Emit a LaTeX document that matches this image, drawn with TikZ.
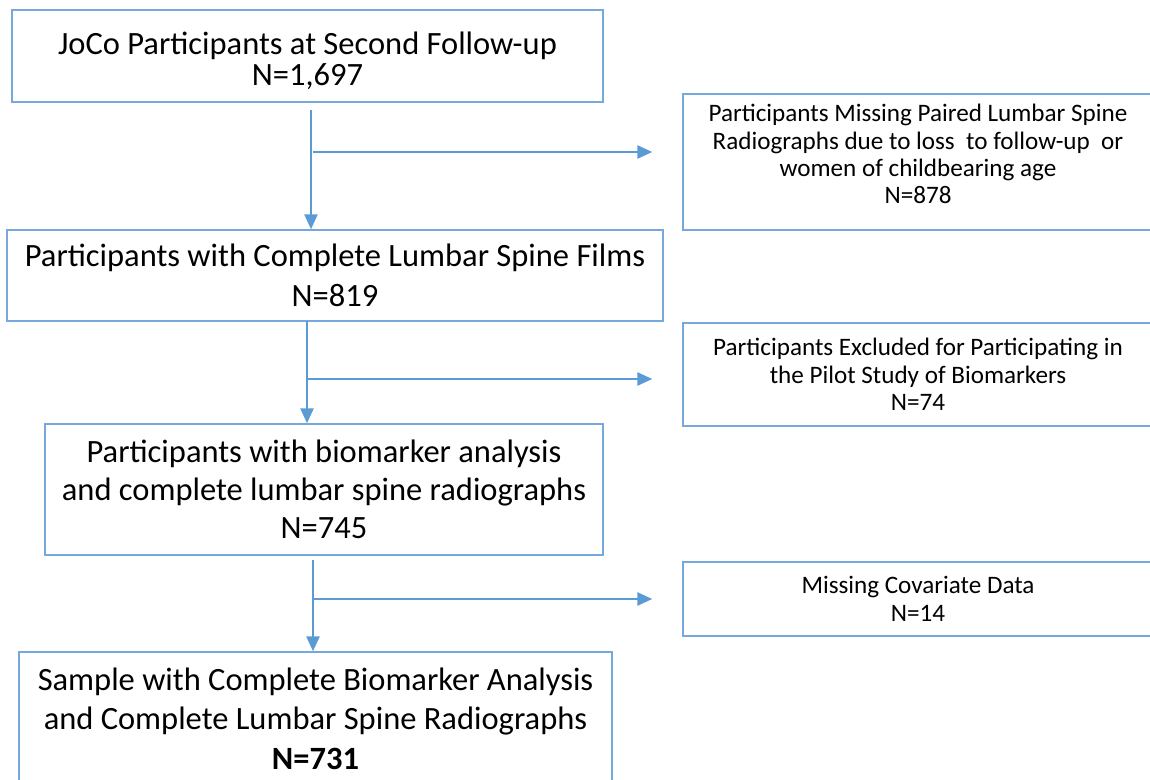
\documentclass[tikz,border=0pt]{standalone}
\usepackage{fontspec}
\setmainfont{Carlito}
\usetikzlibrary{arrows.meta}
\definecolor{flowblue}{RGB}{91,155,213}
\definecolor{frameblue}{RGB}{118,168,222}

\begin{document}
\begin{tikzpicture}[
    x=0.02cm, y=-0.02cm,
    >={Triangle[length=8.5pt, width=7.5pt]},
    flow/.style={->, flowblue, line width=1.2pt},
    mainbox/.style={draw=frameblue, line width=0.9pt, align=center, inner sep=0pt},
    sidebox/.style={draw=frameblue, line width=0.9pt, align=center, inner sep=0pt,
      minimum width=9.4cm, font=\fontsize{14.3}{15.6}\selectfont}
  ]
  \useasboundingbox (0,0) rectangle (1150,779);
  \clip (0,0) rectangle (1150,779);

  % Main column
  \node[mainbox, minimum width=11.82cm, minimum height=1.84cm, text height=36pt,
        font=\fontsize{18.5}{17.5}\selectfont]
    (joco) at (307.5,56) {JoCo Participants at Second Follow-up\\N=1,697};
  \node[mainbox, minimum width=13.12cm, minimum height=1.82cm, font=\fontsize{18.5}{22.5}\selectfont]
    (films) at (335,275.5) {Participants with Complete Lumbar Spine Films\\N=819};
  \node[mainbox, minimum width=11.16cm, minimum height=2.62cm, font=\fontsize{18.5}{21.5}\selectfont]
    (biom) at (324,489.5) {Participants with biomarker analysis\\and complete lumbar spine radiographs\\N=745};
  \node[mainbox, minimum width=11.86cm, minimum height=2.66cm, font=\fontsize{18.5}{22.5}\selectfont]
    (sample) at (315.5,718.5) {Sample with Complete Biomarker Analysis\\and Complete Lumbar Spine Radiographs\\\textbf{N=731}};

  % Exclusions
  \node[sidebox, minimum height=2.72cm, text depth=9pt] (missing) at (918,162)
    {Participants Missing Paired Lumbar Spine\\Radiographs due to loss\ \ to follow-up\ \ or\\women of childbearing age\\N=878};
  \node[sidebox, minimum height=2.06cm] (pilot) at (918,374.5)
    {Participants Excluded for Participating in\\the Pilot Study of Biomarkers\\N=74};
  \node[sidebox, minimum height=1.48cm] (covar) at (918,599)
    {Missing Covariate Data\\N=14};

  % Trunk
  \coordinate (t1) at (311,110);
  \coordinate (t2) at (307,321);
  \coordinate (t3) at (313,560);
  \draw[flow] (t1) -- (t1 |- films.north);
  \draw[flow] (t2) -- (t2 |- biom.north);
  \draw[flow] (t3) -- (t3 |- sample.north);

  % Branches
  \coordinate (j1) at (313,152);
  \coordinate (j2) at (308,379);
  \coordinate (j3) at (314,599);
  \draw[flow, shorten >=0.6cm] (j1) -- (j1 -| missing.west);
  \draw[flow, shorten >=0.6cm] (j2) -- (j2 -| pilot.west);
  \draw[flow, shorten >=0.6cm] (j3) -- (j3 -| covar.west);

\end{tikzpicture}
\end{document}
